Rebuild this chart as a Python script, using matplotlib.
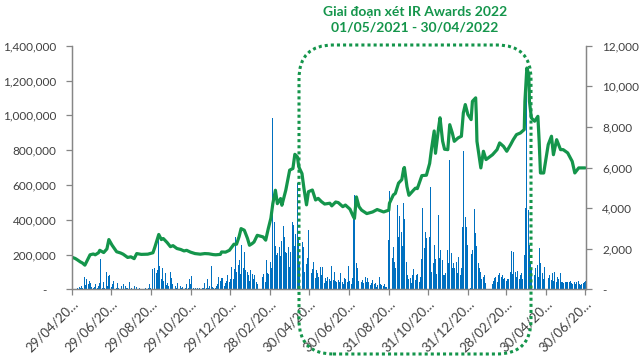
import matplotlib
matplotlib.use("Agg")
import matplotlib.pyplot as plt
import matplotlib.dates as mdates
import matplotlib.transforms as mtransforms
from matplotlib.patches import FancyBboxPatch
from matplotlib.ticker import FixedLocator, FuncFormatter, MultipleLocator
import pandas as pd

plt.rcParams["font.family"] = ["Lato", "DejaVu Sans"]

GREEN = "#14954B"
BLUE = "#0070C0"
GREY = "#868686"
TXT = "#404040"

# market holidays (no bars on these days)
holidays = ["2020-04-30", "2020-05-01", "2020-09-02", "2021-01-01",
            "2021-02-10", "2021-02-11", "2021-02-12", "2021-02-15", "2021-02-16",
            "2021-04-21", "2021-04-30", "2021-05-03", "2021-09-02", "2021-09-03",
            "2022-01-03", "2022-01-31", "2022-02-01", "2022-02-02", "2022-02-03",
            "2022-02-04", "2022-04-11", "2022-05-02", "2022-05-03"]

# daily volume, thousand shares (one row per month)
vol_2020 = [3,
            0, 0, 0, 0, 8, 12, 10, 5, 19, 6, 71, 8, 23, 10, 58, 30, 48, 38, 33, 15,
            10, 54, 12, 29, 15, 8, 20, 38, 25, 173, 8, 15, 42, 10, 38, 100, 20, 77, 15, 80, 15, 29,
            29, 48, 10, 35, 5, 35, 3, 8, 0, 5, 19, 3, 29, 19, 0, 10, 3, 5, 42, 3, 0, 5, 3,
            3, 19, 0, 15, 3, 0, 5, 29, 3, 0, 0, 3, 0, 5, 0, 3, 8, 3, 29, 5, 58,
            119, 125, 60, 96, 111, 40, 311, 134, 58, 30, 125, 45, 86, 92, 25, 38, 10, 19, 100, 30, 67,
            29, 10, 5, 19, 8, 10, 38, 0, 19, 5, 8, 15, 58, 3, 5, 10, 29, 5, 58, 8, 29, 77,
            10, 5, 3, 10, 5, 8, 3, 31, 5, 0, 3, 10, 5, 3, 35, 8, 59, 10, 5, 19, 134,
            20, 15, 8, 10, 5, 19, 29, 10, 69, 50, 25, 65, 40, 63, 19, 35, 50, 25, 82, 44, 30, 60, 130]
vol_2021 = [58, 117, 60, 303, 102, 140, 70, 169, 90, 255, 395, 120, 213, 80, 111, 102, 60, 82, 50, 111,
            88, 40, 60, 50, 82, 44, 30, 70, 63, 88, 40, 169, 60, 96, 88,
            88, 159, 120, 984, 150, 389, 250, 313, 198, 207, 245, 192, 194, 275, 188,
            364, 300, 217, 180, 207, 245, 680, 130,
            217, 351, 389, 370, 250, 178, 317, 610, 200, 303, 150, 44, 313, 274, 245, 100, 146, 178, 120, 341,
            92, 115, 60, 159, 63, 111, 50, 92, 73, 115, 130, 82, 130, 115, 35, 63, 44, 50, 73, 44,
            60, 50, 134, 92, 54, 100, 60, 50, 44, 30, 54, 40, 92, 70, 44, 31, 50, 63, 58, 40, 130, 134,
            50, 44, 30, 63, 40, 403, 543, 150, 120, 80, 50, 107, 44, 40, 30, 54, 35, 69, 44, 30, 63, 40,
            44, 25, 35, 20, 54, 30, 20, 35, 15, 25, 40, 73, 30, 63, 25, 20, 19, 30, 15, 12, 5, 284,
            566, 179, 245, 150, 159, 120, 207, 485, 300, 422, 364, 332, 250, 495, 200, 403, 159, 100, 82, 60,
            60, 63, 35, 40, 80, 115, 54, 60, 82, 90, 115, 44, 70, 120, 173, 466, 236, 332, 150, 293, 265,
            180, 300, 587, 1199, 102, 150, 255, 120, 173, 90, 428, 274, 179, 120, 226, 169, 80, 54, 82, 92, 73, 226,
            150, 100, 744, 207, 120, 313, 150, 120, 159, 80, 92, 60, 188, 82, 120, 200, 360, 792, 418, 200, 360, 150, 255]
vol_2022 = [6, 100, 201, 226, 462, 280, 322, 250, 217, 150, 120, 90, 102, 60, 73, 82, 50, 35, 35,
            30, 35, 50, 63, 73, 59, 40, 82, 60, 92, 73, 50, 82, 60, 63, 50,
            50, 60, 73, 60, 100, 220, 120, 90, 213, 102, 60, 73, 50, 105, 60, 82, 70, 92, 60, 82, 200, 466, 821,
            1157, 456, 255, 150, 100, 111, 188, 80, 120, 60, 140, 70, 100, 240, 150, 92, 80, 60, 130, 50,
            63, 40, 82, 54, 30, 92, 50, 102, 63, 40, 73, 50, 60, 92, 40, 30, 44, 35, 40, 30,
            44, 30, 44, 44, 30, 50, 38, 30, 25, 40, 30, 44, 40, 48, 30, 35, 25, 30, 25, 35, 40, 50]

# closing price (VND), read at turning points
price_dates = ["2020-04-29", "2020-05-04", "2020-05-07", "2020-05-12", "2020-05-15", "2020-05-19",
               "2020-05-22", "2020-05-27", "2020-06-01", "2020-06-04", "2020-06-09", "2020-06-11",
               "2020-06-17", "2020-06-22", "2020-06-25", "2020-06-30", "2020-07-07", "2020-07-13",
               "2020-07-17", "2020-07-24", "2020-07-29", "2020-08-03", "2020-08-07", "2020-08-14",
               "2020-08-24", "2020-09-01", "2020-09-04", "2020-09-10", "2020-09-14", "2020-09-17",
               "2020-09-23", "2020-09-28", "2020-10-02", "2020-10-08", "2020-10-14", "2020-10-19",
               "2020-10-23", "2020-10-29", "2020-11-05", "2020-11-13", "2020-11-20", "2020-11-26",
               "2020-12-03", "2020-12-07", "2020-12-14", "2020-12-16", "2020-12-22", "2020-12-28",
               "2021-01-04", "2021-01-08", "2021-01-12", "2021-01-15", "2021-01-20", "2021-01-25",
               "2021-01-28", "2021-02-01", "2021-02-04", "2021-02-09", "2021-02-18", "2021-02-22",
               "2021-02-26", "2021-03-02", "2021-03-05", "2021-03-09", "2021-03-12", "2021-03-17",
               "2021-03-19", "2021-03-25", "2021-03-31", "2021-04-05", "2021-04-08", "2021-04-12",
               "2021-04-14", "2021-04-19", "2021-04-22", "2021-04-26", "2021-04-29", "2021-05-05",
               "2021-05-10", "2021-05-14", "2021-05-19", "2021-05-24", "2021-06-01", "2021-06-04",
               "2021-06-10", "2021-06-14", "2021-06-21", "2021-06-25", "2021-07-02", "2021-07-07",
               "2021-07-09", "2021-07-12", "2021-07-16", "2021-07-20", "2021-07-28", "2021-08-06",
               "2021-08-13", "2021-08-23", "2021-08-31", "2021-09-01", "2021-09-07", "2021-09-10",
               "2021-09-15", "2021-09-20", "2021-09-23", "2021-09-24", "2021-09-28", "2021-10-01",
               "2021-10-04", "2021-10-08", "2021-10-11", "2021-10-14", "2021-10-21", "2021-10-28",
               "2021-11-02", "2021-11-05", "2021-11-09", "2021-11-11", "2021-11-16", "2021-11-18",
               "2021-11-22", "2021-11-25", "2021-11-30", "2021-12-03", "2021-12-07", "2021-12-10",
               "2021-12-16", "2021-12-21", "2021-12-24", "2021-12-27", "2021-12-31", "2022-01-05",
               "2022-01-07", "2022-01-12", "2022-01-13", "2022-01-14", "2022-01-20", "2022-01-24",
               "2022-01-28", "2022-02-07", "2022-02-14", "2022-02-18", "2022-02-24", "2022-03-01",
               "2022-03-07", "2022-03-11", "2022-03-16", "2022-03-22", "2022-03-28", "2022-03-29",
               "2022-04-01", "2022-04-04", "2022-04-05", "2022-04-08", "2022-04-13", "2022-04-18",
               "2022-04-20", "2022-04-22", "2022-04-27", "2022-05-04", "2022-05-09", "2022-05-12",
               "2022-05-17", "2022-05-23", "2022-05-27", "2022-06-03", "2022-06-10", "2022-06-14",
               "2022-06-20", "2022-06-30"]
price_values = [1580, 1520, 1460, 1350, 1300, 1190,
                1380, 1700, 1740, 1700, 1800, 1920,
                1810, 1990, 2450, 2170, 1850, 1790,
                1730, 1570, 1600, 1510, 1760, 1720,
                1730, 1800, 2080, 2700, 2450, 2500,
                2300, 2100, 2150, 2010, 1960, 1890,
                1920, 1830, 1760, 1730, 1760, 1750,
                1710, 1700, 1720, 1840, 1830, 1920,
                2220, 2220, 2600, 2990, 2910, 2500,
                2170, 2250, 2330, 2660, 2580, 2420,
                2990, 3500, 4220, 4880, 4220, 4470,
                4140, 4880, 5870, 5950, 6650, 6520,
                6040, 5700, 4980, 4160, 4810, 4890,
                4400, 4480, 4320, 4200, 4240, 4110,
                4300, 4270, 4070, 4150, 3950, 3600,
                3490, 4550, 4070, 3900, 3730, 3810,
                3930, 3810, 3900, 4240, 4650, 4720,
                5230, 5400, 5950, 6000, 5060, 4630,
                4740, 4880, 4980, 4960, 5600, 5620,
                6200, 6940, 7800, 6700, 8000, 8450,
                7300, 6900, 6880, 8110, 7700, 7290,
                7460, 7540, 8690, 9100, 8610, 8360,
                9260, 9430, 8610, 7290, 5980, 6800,
                6390, 6630, 6880, 7210, 7040, 6800,
                7130, 7370, 7620, 7700, 7870, 9260,
                10900, 10580, 9260, 8440, 8280, 8520,
                7290, 5730, 5730, 7130, 7540, 6630,
                7370, 6880, 6880, 6720, 6300, 5730,
                5980, 5980]

tick_dates = ["2020-04-29", "2020-06-29", "2020-08-29", "2020-10-29", "2020-12-29",
              "2021-02-28", "2021-04-30", "2021-06-30", "2021-08-31", "2021-10-31",
              "2021-12-31", "2022-02-28", "2022-04-30", "2022-06-30"]
tick_labels = ["29/04/20…", "29/06/20…", "29/08/20…", "29/10/20…", "29/12/20…",
               "28/02/20…", "30/04/20…", "30/06/20…", "31/08/20…", "31/10/20…",
               "31/12/20…", "28/02/20…", "30/04/20…", "30/06/20…"]

title_lines = ["Giai đoạn xét IR Awards 2022", "01/05/2021 - 30/04/2022"]

days = pd.bdate_range("2020-04-29", "2022-06-30", freq="C", holidays=holidays)
volume = [v * 1000 for v in vol_2020 + vol_2021 + vol_2022]
n = min(len(days), len(volume))

fig = plt.figure(figsize=(6.4, 3.62), dpi=100)
ax = fig.add_axes([71.6 / 640, 1 - 289.3 / 362, (585.5 - 71.6) / 640, (289.3 - 45.7) / 362])
ax2 = ax.twinx()

ax.bar(days[:n], volume[:n], width=1.35, color=BLUE, linewidth=0)
ax2.plot(pd.to_datetime(price_dates), price_values, color=GREEN, lw=2.3,
         solid_joinstyle="round", solid_capstyle="round")

x0 = mdates.date2num(pd.Timestamp("2020-04-29")) - 0.5
x1 = mdates.date2num(pd.Timestamp("2022-06-30")) + 0.5
ax.set_xlim(x0, x1)
ax.set_ylim(0, 1400000)
ax2.set_ylim(0, 12000)

ax.yaxis.set_major_locator(MultipleLocator(200000))
ax.yaxis.set_major_formatter(FuncFormatter(lambda v, p: "-   " if v == 0 else f"{v:,.0f}"))
ax2.yaxis.set_major_locator(MultipleLocator(2000))
ax2.yaxis.set_major_formatter(FuncFormatter(lambda v, p: "-" if v == 0 else f"{v:,.0f}"))

ax.xaxis.set_major_locator(FixedLocator(mdates.date2num(pd.to_datetime(tick_dates))))
ax.set_xticklabels(tick_labels, rotation=45, ha="right", rotation_mode="anchor", fontsize=9.5)
shift = mtransforms.ScaledTranslation(9 / 100, 0, fig.dpi_scale_trans)
for lab in ax.get_xticklabels():
    lab.set_transform(lab.get_transform() + shift)

for a in (ax, ax2):
    a.spines["top"].set_visible(False)
    for s in ("left", "right", "bottom"):
        a.spines[s].set_color(GREY)
        a.spines[s].set_linewidth(0.9)
ax.tick_params(axis="y", length=4, width=0.9, color=GREY, labelcolor=TXT, labelsize=8.5, pad=7)
ax2.tick_params(axis="y", length=4, width=0.9, color=GREY, labelcolor=TXT, labelsize=8.5, pad=8)
ax.tick_params(axis="x", length=4, width=0.9, color=GREY, labelcolor=TXT, pad=2)

# highlighted review period
box = FancyBboxPatch((299, 362 - 354), 232, 309, boxstyle="round,pad=0,rounding_size=34",
                     transform=None, fill=False, edgecolor=GREEN, linewidth=2.2,
                     linestyle=(0, (1, 1)), capstyle="butt", zorder=10)
fig.add_artist(box)

fig.text(415 / 640, 1 - 12 / 362, title_lines[0], ha="center", va="center",
         color=GREEN, fontsize=10, fontweight="bold")
fig.text(415 / 640, 1 - 27 / 362, title_lines[1], ha="center", va="center",
         color=GREEN, fontsize=10, fontweight="bold")

fig.savefig("out.png", dpi=100)
